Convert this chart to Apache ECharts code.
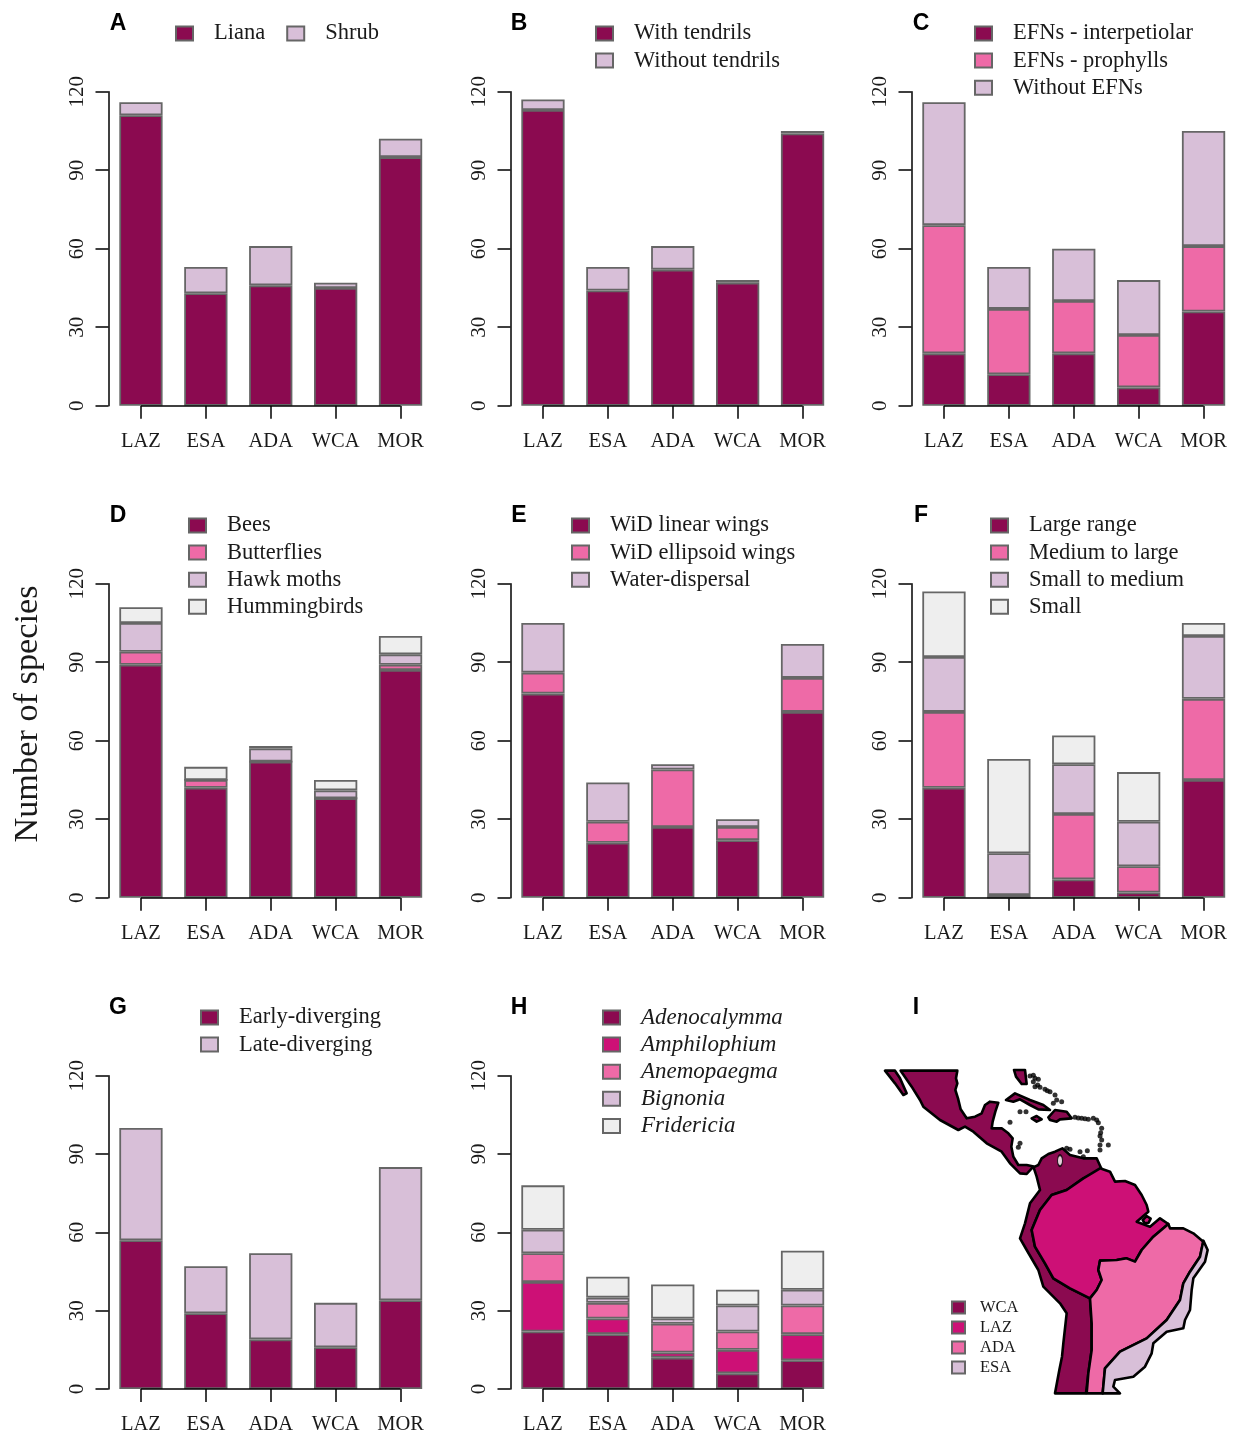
<!DOCTYPE html>
<html>
<head>
    <meta charset="utf-8">
    <title>Number of species</title>
    <script src="https://cdn.jsdelivr.net/npm/echarts@6/dist/echarts.min.js"></script>
    <style>
        html, body { margin: 0; padding: 0; background: #fff; overflow: hidden; }
    </style>
</head>
<body>
    <!-- the last column's grid runs a little past the window, so the div is wider than 1233 -->
    <div id="main" style="width:1240px;height:1435px;"></div>
    <script type="text/javascript">
    var categories = ['LAZ', 'ESA', 'ADA', 'WCA', 'MOR'];
    var yTicks = [0, 30, 60, 90, 120];

    // A
    var liana = [111, 43, 46, 45, 95];
    var shrub = [5, 10, 15, 2, 7];
    // B
    var withTendrils = [113, 44, 52, 47, 104];
    var withoutTendrils = [4, 9, 9, 1, 1];
    // C
    var efnInter = [20, 12, 20, 7, 36];
    var efnProph = [49, 25, 20, 20, 25];
    var efnNone = [47, 16, 20, 21, 44];
    // D
    var bees = [89, 42, 52, 38, 87];
    var butterflies = [5, 3, 0, 0, 2];
    var hawkMoths = [11, 0, 5, 3, 4];
    var hummingbirds = [6, 5, 1, 4, 7];
    // E
    var widLinear = [78, 21, 27, 22, 71];
    var widEllipsoid = [8, 8, 22, 5, 13];
    var waterDispersal = [19, 15, 2, 3, 13];
    // F
    var rangeLarge = [42, 0, 7, 2, 45];
    var rangeMedium = [29, 1, 25, 10, 31];
    var rangeSmallMed = [21, 16, 19, 17, 24];
    var rangeSmall = [25, 36, 11, 19, 5];
    // G
    var earlyDiv = [57, 29, 19, 16, 34];
    var lateDiv = [43, 18, 33, 17, 51];
    // H
    var adenocalymma = [22, 21, 12, 6, 11];
    var amphilophium = [19, 6, 2, 9, 10];
    var anemopaegma = [11, 6, 11, 7, 11];
    var bignonia = [9, 2, 2, 10, 6];
    var fridericia = [17, 8, 13, 6, 15];

    var DARK = '#8B0A50', MAGENTA = '#CD1076', PINK = '#EE6AA7', THISTLE = '#D8BFD8', PALE = '#EEEEEE';
    var BORDER = '#666666';
    var SERIF = '"Liberation Serif", "Times New Roman", serif';
    var TEXT = '#1a1a1a';

    // panel I outlines (crop units, 3 per pixel)
    var wcaOutlines = [
        [[92,62],[262,62],[258,85],[262,100],[256,120],[264,145],[272,178],[290,205],[315,200],[335,190],[345,165],[360,155],[385,158],[376,185],[368,215],[365,235],[395,235],[415,250],[428,265],[424,290],[430,320],[445,345],[470,345],[495,350],[505,345],[515,325],[535,312],[555,305],[577,295],[600,315],[640,325],[680,325],[695,358],[640,385],[590,420],[545,435],[510,480],[485,540],[495,590],[525,640],[550,685],[600,715],[660,745],[665,820],[665,900],[655,970],[648,1030],[555,1030],[568,960],[576,920],[580,880],[590,790],[570,760],[520,710],[505,660],[470,600],[450,565],[465,520],[480,460],[510,420],[500,380],[490,350],[470,372],[450,370],[420,340],[395,305],[350,280],[310,245],[285,230],[265,240],[210,210],[160,170],[150,150],[125,110]],
        [[45,62],[75,62],[90,85],[110,130],[100,135],[75,100]],
        [[432,60],[465,60],[470,102],[455,102],[438,80]],
        [[408,150],[435,130],[480,150],[520,165],[540,180],[505,178],[480,165],[450,148],[430,155]],
        [[535,202],[555,180],[590,185],[605,205],[570,208],[560,215],[540,210]],
        [[485,205],[500,198],[515,208],[500,215]]
    ];
    var lazOutlines = [
        [[690,355],[720,365],[735,395],[765,393],[795,405],[815,435],[830,465],[835,485],[800,515],[840,530],[870,505],[895,522],[850,560],[815,600],[795,635],[770,625],[740,630],[690,632],[685,660],[695,690],[680,720],[660,745],[600,715],[550,685],[525,640],[495,590],[485,540],[510,480],[545,435],[590,420],[640,385]],
        [[818,510],[830,498],[842,506],[836,518],[824,520]]
    ];
    var adaOutlines = [
        [[895,522],[900,535],[940,535],[970,550],[1000,575],[990,620],[960,665],[940,700],[930,750],[890,810],[830,865],[750,905],[705,955],[698,1030],[650,1030],[655,970],[665,900],[665,820],[660,745],[680,720],[695,690],[685,660],[690,632],[740,630],[770,625],[795,635],[815,600],[850,560]]
    ];
    var esaOutlines = [
        [[1000,572],[1013,600],[1005,635],[970,685],[965,720],[960,780],[945,810],[940,835],[890,845],[850,880],[845,910],[825,950],[790,980],[735,990],[730,1010],[750,1030],[698,1030],[705,955],[750,905],[830,865],[890,810],[930,750],[940,700],[960,665],[990,620]]
    ];
    var mapSpecks = [[480,78],[490,76],[495,85],[505,88],[490,95],[495,110],[503,105],[510,112],[525,118],[532,122],[540,125],[555,135],[575,155],[550,160],[560,150],[450,185],[468,185],[420,217],[615,202],[625,204],[635,205],[645,206],[655,208],[670,205],[680,210],[685,218],[695,235],[692,248],[690,258],[695,270],[690,285],[690,300],[715,285],[590,295],[600,298],[630,305],[652,302],[640,320],[450,280],[445,292]];
    var mapLake = [[570,332]];

    var panels = [
        { letter: 'A', col: 0, row: 0, legendLeft: 175, legendTop: 22, orient: 'horizontal', names: ['Liana', 'Shrub'], values: [liana, shrub], colors: [DARK, THISTLE] },
        { letter: 'B', col: 1, row: 0, legendLeft: 595, legendTop: 22, names: ['With tendrils', 'Without tendrils'], values: [withTendrils, withoutTendrils], colors: [DARK, THISTLE] },
        { letter: 'C', col: 2, row: 0, legendLeft: 974, legendTop: 22, names: ['EFNs - interpetiolar', 'EFNs - prophylls', 'Without EFNs'], values: [efnInter, efnProph, efnNone], colors: [DARK, PINK, THISTLE] },
        { letter: 'D', col: 0, row: 1, legendLeft: 188, legendTop: 514, names: ['Bees', 'Butterflies', 'Hawk moths', 'Hummingbirds'], values: [bees, butterflies, hawkMoths, hummingbirds], colors: [DARK, PINK, THISTLE, PALE] },
        { letter: 'E', col: 1, row: 1, legendLeft: 571, legendTop: 514, names: ['WiD linear wings', 'WiD ellipsoid wings', 'Water-dispersal'], values: [widLinear, widEllipsoid, waterDispersal], colors: [DARK, PINK, THISTLE] },
        { letter: 'F', col: 2, row: 1, legendLeft: 990, legendTop: 514, names: ['Large range', 'Medium to large', 'Small to medium', 'Small'], values: [rangeLarge, rangeMedium, rangeSmallMed, rangeSmall], colors: [DARK, PINK, THISTLE, PALE] },
        { letter: 'G', col: 0, row: 2, legendLeft: 200, legendTop: 1006, names: ['Early-diverging', 'Late-diverging'], values: [earlyDiv, lateDiv], colors: [DARK, THISTLE] },
        { letter: 'H', col: 1, row: 2, legendLeft: 602, legendTop: 1006, italic: true, names: ['Adenocalymma', 'Amphilophium', 'Anemopaegma', 'Bignonia', 'Fridericia'], values: [adenocalymma, amphilophium, anemopaegma, bignonia, fridericia], colors: [DARK, MAGENTA, PINK, THISTLE, PALE] }
    ];

    var colLeft = [108.5, 510.5, 911.5];
    var colLetter = [118, 519, 921];
    var rowTop = [91.7, 583.7, 1075.7];
    var rowLetter = [24, 516, 1008];

    var grids = [], xAxes = [], yAxes = [], series = [], legends = [], titles = [];

    panels.forEach(function (p, i) {
        grids.push({ left: colLeft[p.col], top: rowTop[p.row], width: 324.5, height: 314 });
        xAxes.push({
            type: 'category', gridIndex: i, data: categories,
            axisLine: { show: false },
            axisTick: { show: true, alignWithLabel: true, length: 13, lineStyle: { color: '#000', width: 1.5 } },
            axisLabel: { interval: 0, margin: 25, fontFamily: SERIF, fontSize: 20.5, color: TEXT }
        });
        yAxes.push({
            type: 'value', gridIndex: i, min: yTicks[0], max: yTicks[yTicks.length - 1], interval: 30,
            splitLine: { show: false },
            axisLine: { show: true, onZero: false, lineStyle: { color: '#000', width: 1.5 } },
            axisTick: { show: true, length: 13, lineStyle: { color: '#000', width: 1.5 } },
            axisLabel: { rotate: 90, margin: 21, fontFamily: SERIF, fontSize: 21, color: TEXT, showMinLabel: true, showMaxLabel: true }
        });
        p.names.forEach(function (name, k) {
            var s = {
                name: name, type: 'bar', stack: 'p' + i, xAxisIndex: i, yAxisIndex: i,
                data: p.values[k], barWidth: '66.7%',
                itemStyle: { color: p.colors[k], borderColor: BORDER, borderWidth: 1.8 }
            };
            if (k === 0) {
                // R style axis: the base line only runs from first to last tick
                s.markLine = {
                    silent: true, symbol: 'none', animation: false, label: { show: false },
                    lineStyle: { color: '#000', width: 1.5, type: 'solid' },
                    data: [[{ coord: [categories[0], 0] }, { coord: [categories[4], 0] }]]
                };
            }
            series.push(s);
        });
        legends.push({
            data: p.names, left: p.legendLeft, top: p.legendTop, orient: p.orient || 'vertical', padding: 0,
            icon: 'rect', itemWidth: 17, itemHeight: 14, itemGap: p.orient ? 21 : 4.1, selectedMode: false,
            textStyle: { fontFamily: SERIF, fontSize: p.italic ? 23 : 22.5, color: TEXT, fontStyle: p.italic ? 'italic' : 'normal', padding: [0, 0, 0, 16] }
        });
        titles.push({
            text: p.letter, left: colLetter[p.col], top: rowLetter[p.row], textAlign: 'center', textVerticalAlign: 'middle',
            textStyle: { fontFamily: '"Liberation Sans", Arial, sans-serif', fontWeight: 'bold', fontSize: 23, color: '#000' }, padding: 0
        });
    });

    // panel I sits on a hidden grid, 3 units per pixel
    var mapIdx = panels.length;
    grids.push({ left: 870, top: 1050, width: 350, height: 360 });
    xAxes.push({ type: 'value', gridIndex: mapIdx, min: 0, max: 1050, show: false });
    yAxes.push({ type: 'value', gridIndex: mapIdx, min: 0, max: 1080, inverse: true, show: false });

    function regionSeries(name, color, outlines) {
        return {
            name: name, type: 'custom', xAxisIndex: mapIdx, yAxisIndex: mapIdx, coordinateSystem: 'cartesian2d',
            clip: false,
            itemStyle: { color: color, borderColor: BORDER, borderWidth: 1.8 },
            data: outlines.map(function (o, n) { return [n]; }),
            renderItem: function (params, api) {
                var pts = outlines[api.value(0)].map(function (c) { return api.coord(c); });
                return {
                    type: 'polygon', shape: { points: pts },
                    style: { fill: color, stroke: '#000', lineWidth: 2.6, lineJoin: 'round' }
                };
            }
        };
    }
    series.push(regionSeries('WCA', DARK, wcaOutlines));
    series.push(regionSeries('LAZ', MAGENTA, lazOutlines));
    series.push(regionSeries('ADA', PINK, adaOutlines));
    series.push(regionSeries('ESA', THISTLE, esaOutlines));
    series.push({
        name: 'specks', type: 'scatter', xAxisIndex: mapIdx, yAxisIndex: mapIdx, data: mapSpecks,
        symbolSize: 5, itemStyle: { color: '#000' }, silent: true
    });
    series.push({
        name: 'lake', type: 'scatter', xAxisIndex: mapIdx, yAxisIndex: mapIdx, data: mapLake,
        symbolSize: [5, 11], itemStyle: { color: '#fff', borderColor: '#000', borderWidth: 1.5 }, silent: true
    });
    legends.push({
        data: ['WCA', 'LAZ', 'ADA', 'ESA'], left: 951, top: 1299, orient: 'vertical', padding: 0,
        icon: 'rect', itemWidth: 13, itemHeight: 12, itemGap: 3, selectedMode: false,
        textStyle: { fontFamily: SERIF, fontSize: 16.5, color: TEXT, padding: [0, 0, 0, 10] }
    });
    titles.push({
        text: 'I', left: 916, top: rowLetter[2], textAlign: 'center', textVerticalAlign: 'middle',
        textStyle: { fontFamily: '"Liberation Sans", Arial, sans-serif', fontWeight: 'bold', fontSize: 23, color: '#000' }, padding: 0
    });

    var chart = echarts.init(document.getElementById('main'), null, { renderer: 'canvas' });
    chart.setOption({
        animation: false,
        backgroundColor: '#fff',
        title: titles,
        tooltip: { show: false },
        grid: grids,
        xAxis: xAxes,
        yAxis: yAxes,
        legend: legends,
        series: series,
        graphic: [{
            type: 'text', x: 28, y: 714, rotation: Math.PI / 2,
            style: { text: 'Number of species', font: '34.3px ' + SERIF, fill: TEXT, textAlign: 'center', textVerticalAlign: 'middle' }
        }]
    });
    </script>
</body>
</html>
